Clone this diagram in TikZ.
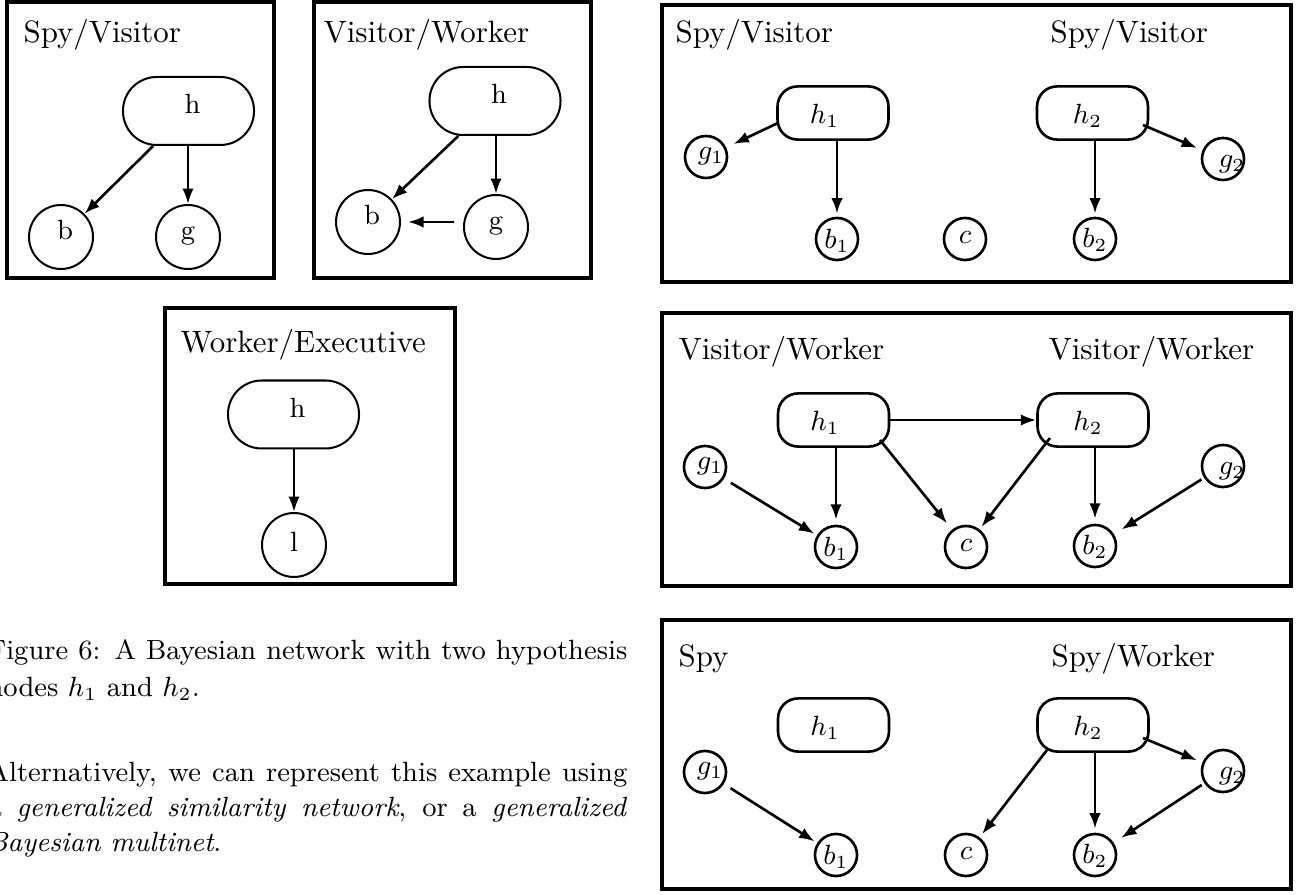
\documentclass[tikz,border=0pt]{standalone}
\usetikzlibrary{arrows.meta,calc}
\begin{document}
\begin{tikzpicture}[x=0.3236pt,y=-0.3236pt,
  frame/.style={line width=1pt},
  bigh/.style={draw,line width=0.65pt,rectangle,rounded corners=10.9pt,minimum width=42.4pt,minimum height=22pt,inner sep=0pt},
  bigc/.style={draw,line width=0.65pt,circle,minimum size=20.7pt,inner sep=0pt},
  smallh/.style={draw,line width=0.85pt,rectangle,rounded corners=6.5pt,minimum width=35.9pt,minimum height=17.2pt,inner sep=0pt},
  smallc/.style={draw,line width=0.85pt,circle,minimum size=13.6pt,inner sep=0pt},
  lbl/.style={anchor=base,inner sep=0pt,font=\fontsize{9}{11}\selectfont},
  ttl/.style={anchor=base west,inner sep=0pt,font=\fontsize{10}{12}\selectfont},
  arr/.style={-{Latex[length=5pt,width=3.7pt]},line width=0.85pt},
  captext/.style={anchor=base west,inner sep=0pt,font=\fontsize{9}{11}\selectfont}
]
\useasboundingbox (0,0) rectangle (1300,895);

% ---------- Box 1: Spy/Visitor ----------
\draw[frame] (7,2) rectangle (274,278);
\node[ttl] (t1) at (23,43) {Spy/Visitor};
\node[bigh] (A-h) at (188.5,111) {};
\node[lbl] (A-hl) at (192.5,114) {h};
\node[bigc] (A-b) at (61,237) {};
\node[lbl] (A-bl) at (65,240) {b};
\node[bigc] (A-g) at (188,237) {};
\node[lbl] (A-gl) at (188,240) {g};
\draw[arr] (A-h) -- (A-b);
\draw[arr] (A-h.south -| A-g) -- (A-g.north);

% ---------- Box 2: Visitor/Worker ----------
\draw[frame] (314,2) rectangle (591,278);
\node[ttl] (t2) at (323,43) {Visitor/Worker};
\node[bigh] (B-h) at (495,101) {};
\node[lbl] (B-hl) at (499,104) {h};
\node[bigc] (B-b) at (368,222) {};
\node[lbl] (B-bl) at (372,225) {b};
\node[bigc] (B-g) at (496,227) {};
\node[lbl] (B-gl) at (496,230) {g};
\draw[arr] (B-h) -- (B-b);
\draw[arr] (B-h.south -| B-g) -- (B-g.north);
\draw[arr,shorten <=2.9pt,shorten >=2.3pt] (B-g.west |- B-b.east) -- (B-b.east);

% ---------- Box 3: Worker/Executive ----------
\draw[frame] (165,308) rectangle (455,584);
\node[ttl] (t3) at (180,353) {Worker/Executive};
\node[bigh] (C-h) at (293.5,414.5) {};
\node[lbl] (C-hl) at (297.5,418) {h};
\node[bigc] (C-l) at (294,545) {};
\node[lbl] (C-ll) at (294,552) {l};
\draw[arr] (C-h.south -| C-l) -- (C-l.north);

% ---------- Right box A ----------
\draw[frame] (662,5) rectangle (1291,282);
\node[ttl] (ta1) at (675,43) {Spy/Visitor};
\node[ttl] (ta2) at (1050,43) {Spy/Visitor};
\node[smallh] (RA-h1) at (833,113) {};
\node[lbl] (RA-h1l) at (824.5,124) {$h_1$};
\node[smallh] (RA-h2) at (1092.5,113) {};
\node[lbl] (RA-h2l) at (1087.5,124) {$h_2$};
\node[smallc] (RA-g1) at (706,157) {};
\node[lbl] (RA-g1l) at (711,160) {$g_1$};
\node[smallc] (RA-g2) at (1223,159) {};
\node[lbl] (RA-g2l) at (1232,168) {$g_2$};
\node[smallc] (RA-b1) at (837,239) {};
\node[lbl] (RA-b1l) at (837,249) {$b_1$};
\node[smallc] (RA-c) at (965,239) {};
\node[lbl] (RA-cl) at (965,244) {$c$};
\node[smallc] (RA-b2) at (1095,239) {};
\node[lbl] (RA-b2l) at (1095,248) {$b_2$};
\draw[arr,shorten >=2.6pt] ($(RA-h1)+(-55,10)$) -- (RA-g1);
\draw[arr,shorten >=1pt] (RA-h1.south -| RA-b1) -- (RA-b1.north);
\draw[arr,shorten >=1pt] (RA-h2.south -| RA-b2) -- (RA-b2.north);
\draw[arr,shorten >=1.9pt] ($(RA-h2)+(50.5,12)$) -- (RA-g2);

% ---------- Right box B ----------
\draw[frame] (662,313) rectangle (1291,586);
\node[ttl] (tb1) at (678,360) {Visitor/Worker};
\node[ttl] (tb2) at (1048,360) {Visitor/Worker};
\node[smallh] (RB-h1) at (833.5,420) {};
\node[lbl] (RB-h1l) at (825,431) {$h_1$};
\node[smallh] (RB-h2) at (1093,420) {};
\node[lbl] (RB-h2l) at (1088,431) {$h_2$};
\node[smallc] (RB-g1) at (705,467) {};
\node[lbl] (RB-g1l) at (710,470) {$g_1$};
\node[smallc] (RB-g2) at (1223,466) {};
\node[lbl] (RB-g2l) at (1232,475) {$g_2$};
\node[smallc] (RB-b1) at (836,547) {};
\node[lbl] (RB-b1l) at (836,557) {$b_1$};
\node[smallc] (RB-c) at (966,547) {};
\node[lbl] (RB-cl) at (966,552) {$c$};
\node[smallc] (RB-b2) at (1095,546) {};
\node[lbl] (RB-b2l) at (1095,555) {$b_2$};
\draw[arr] (RB-h1.east) -- (RB-h2.west);
\draw[arr,shorten >=1.6pt] (RB-h1.south -| RB-b1) -- (RB-b1.north);
\draw[arr,shorten >=2.6pt] ($(RB-h1)+(46.5,20)$) -- (RB-c);
\draw[arr,shorten >=1pt] ($(RB-h2)+(-43,18)$) -- (RB-c);
\draw[arr,shorten >=1.6pt] (RB-h2.south -| RB-b2) -- (RB-b2.north);
\draw[arr,shorten <=2.6pt,shorten >=1pt] (RB-g1) -- (RB-b1);
\draw[arr,shorten <=1pt,shorten >=2.9pt] (RB-g2) -- (RB-b2);

% ---------- Right box C ----------
\draw[frame] (662,620) rectangle (1291,889);
\node[ttl] (tc1) at (678,667) {Spy};
\node[ttl] (tc2) at (1051,667) {Spy/Worker};
\node[smallh] (RC-h1) at (833.5,725) {};
\node[lbl] (RC-h1l) at (825,736) {$h_1$};
\node[smallh] (RC-h2) at (1093,725) {};
\node[lbl] (RC-h2l) at (1088,736) {$h_2$};
\node[smallc] (RC-g1) at (705,772) {};
\node[lbl] (RC-g1l) at (710,775) {$g_1$};
\node[smallc] (RC-g2) at (1223,771) {};
\node[lbl] (RC-g2l) at (1232,780) {$g_2$};
\node[smallc] (RC-b1) at (836,855) {};
\node[lbl] (RC-b1l) at (836,865) {$b_1$};
\node[smallc] (RC-c) at (966,855) {};
\node[lbl] (RC-cl) at (966,860) {$c$};
\node[smallc] (RC-b2) at (1095,855) {};
\node[lbl] (RC-b2l) at (1095,864) {$b_2$};
\draw[arr,shorten <=2.6pt,shorten >=1pt] (RC-g1) -- (RC-b1);
\draw[arr,shorten >=1.3pt] ($(RC-h2)+(-46,25)$) -- (RC-c);
\draw[arr,shorten >=1.3pt] (RC-h2.south -| RC-b2) -- (RC-b2.north);
\draw[arr,shorten >=1.9pt] ($(RC-h2)+(50,13)$) -- (RC-g2);
\draw[arr,shorten <=1pt,shorten >=2.9pt] (RC-g2) -- (RC-b2);

% ---------- Caption and text ----------
\node[captext] (cap1) at (-13,660) {\makebox[207pt][s]{Figure 6: A Bayesian network with two hypothesis}};
\node[captext] (cap2) at (-13,697) {nodes $h_1$ and $h_2$.};
\node[captext] (cap3) at (-13,782) {\makebox[207pt][s]{Alternatively, we can represent this example using}};
\node[captext] (cap4) at (-13,817) {\makebox[207pt][s]{a \emph{generalized similarity network}, or a \emph{generalized}}};
\node[captext] (cap5) at (-13,852) {\emph{Bayesian multinet}.};
\end{tikzpicture}
\end{document}
